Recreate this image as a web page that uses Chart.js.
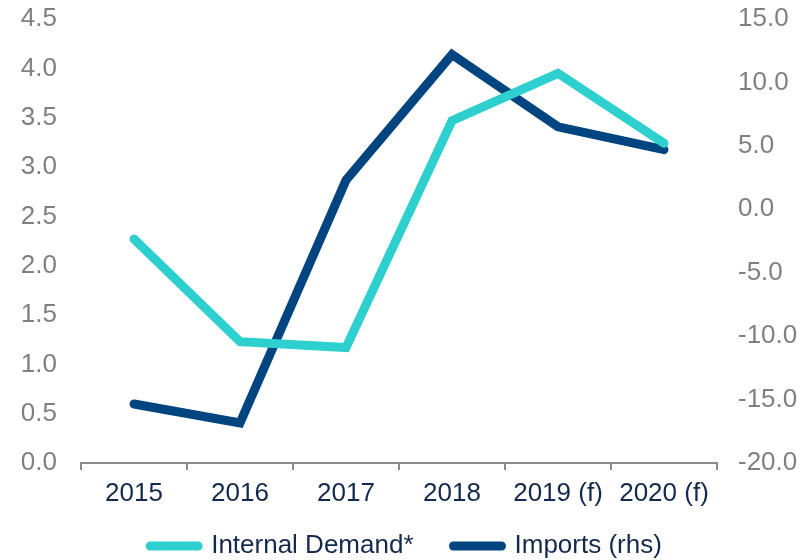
<!DOCTYPE html>
<html>
<head>
<meta charset="utf-8">
<script src="https://cdn.jsdelivr.net/npm/chart.js@4/dist/chart.umd.min.js"></script>
<style>
  html, body { margin: 0; padding: 0; background: #ffffff; }
  #wrap { width: 803px; height: 560px; position: relative; }
</style>
</head>
<body>
<div id="wrap"><canvas id="c" width="803" height="560"></canvas></div>
<script>
const categories = ['2015', '2016', '2017', '2018', '2019 (f)', '2020 (f)'];
const internalDemand = [2.27, 1.23, 1.17, 3.47, 3.95, 3.24];
const imports = [-15.35, -16.85, 2.3, 12.2, 6.5, 4.7];
const leftTicks = [0, 0.5, 1, 1.5, 2, 2.5, 3, 3.5, 4, 4.5];
const rightTicks = [-20, -15, -10, -5, 0, 5, 10, 15];
const seriesNames = ['Internal Demand*', 'Imports (rhs)'];

const FONT = "'Liberation Sans', Arial, sans-serif";
const CYAN = '#2ECFCF';
const NAVY = '#00457F';
const TEXT_NAVY = '#14294C';
const GREY = '#808080';
const AXIS = '#8C8C8C';

function fitY(width) {
  return (s) => {
    s.width = width;
    s.paddingTop = 19;
    s.paddingBottom = 0;
  };
}

new Chart(document.getElementById('c'), {
  type: 'line',
  data: {
    labels: categories,
    datasets: [
      {
        label: seriesNames[0],
        data: internalDemand,
        yAxisID: 'y',
        borderColor: CYAN,
        backgroundColor: CYAN,
        borderWidth: 9,
        borderCapStyle: 'round',
        borderJoinStyle: 'miter',
        pointRadius: 0,
        tension: 0,
        fill: false
      },
      {
        label: seriesNames[1],
        data: imports,
        yAxisID: 'y1',
        borderColor: NAVY,
        backgroundColor: NAVY,
        borderWidth: 9,
        borderCapStyle: 'round',
        borderJoinStyle: 'miter',
        pointRadius: 0,
        tension: 0,
        fill: false
      }
    ]
  },
  options: {
    responsive: false,
    animation: false,
    devicePixelRatio: 1,
    layout: { padding: { top: 0, left: 9, right: 0, bottom: 0 } },
    plugins: {
      tooltip: { enabled: false },
      legend: {
        position: 'bottom',
        maxHeight: 67,
        labels: {
          usePointStyle: true,
          pointStyle: 'line',
          pointStyleWidth: 48,
          boxHeight: 26,
          padding: 40,
          color: TEXT_NAVY,
          font: { family: FONT, size: 26 },
          generateLabels: (chart) => {
            const items = Chart.defaults.plugins.legend.labels.generateLabels(chart);
            items.forEach(it => { it.lineCap = 'round'; });
            return items;
          }
        }
      }
    },
    scales: {
      x: {
        type: 'category',
        offset: true,
        grid: {
          display: true,
          drawOnChartArea: false,
          offset: true,
          drawTicks: true,
          tickLength: 7,
          color: AXIS,
          lineWidth: 2
        },
        border: { display: true, color: AXIS, width: 2 },
        ticks: {
          color: TEXT_NAVY,
          font: { family: FONT, size: 26 },
          mirror: true,
          padding: -46,
          maxRotation: 0,
          autoSkip: false
        },
        afterFit: (s) => { s.height = 30; }
      },
      y: {
        position: 'left',
        min: 0,
        max: 4.5,
        grid: { display: false, drawTicks: false },
        border: { display: false },
        afterBuildTicks: (s) => { s.ticks = leftTicks.map(v => ({ value: v })); },
        ticks: {
          color: GREY,
          font: { family: FONT, size: 26 },
          padding: 24,
          callback: (v) => Number(v).toFixed(1)
        },
        afterFit: fitY(72)
      },
      y1: {
        position: 'right',
        min: -20,
        max: 15,
        grid: { display: false, drawTicks: false },
        border: { display: false },
        afterBuildTicks: (s) => { s.ticks = rightTicks.map(v => ({ value: v })); },
        ticks: {
          color: GREY,
          font: { family: FONT, size: 26 },
          padding: 21,
          callback: (v) => Number(v).toFixed(1)
        },
        afterFit: fitY(86)
      }
    }
  }
});
</script>
</body>
</html>
